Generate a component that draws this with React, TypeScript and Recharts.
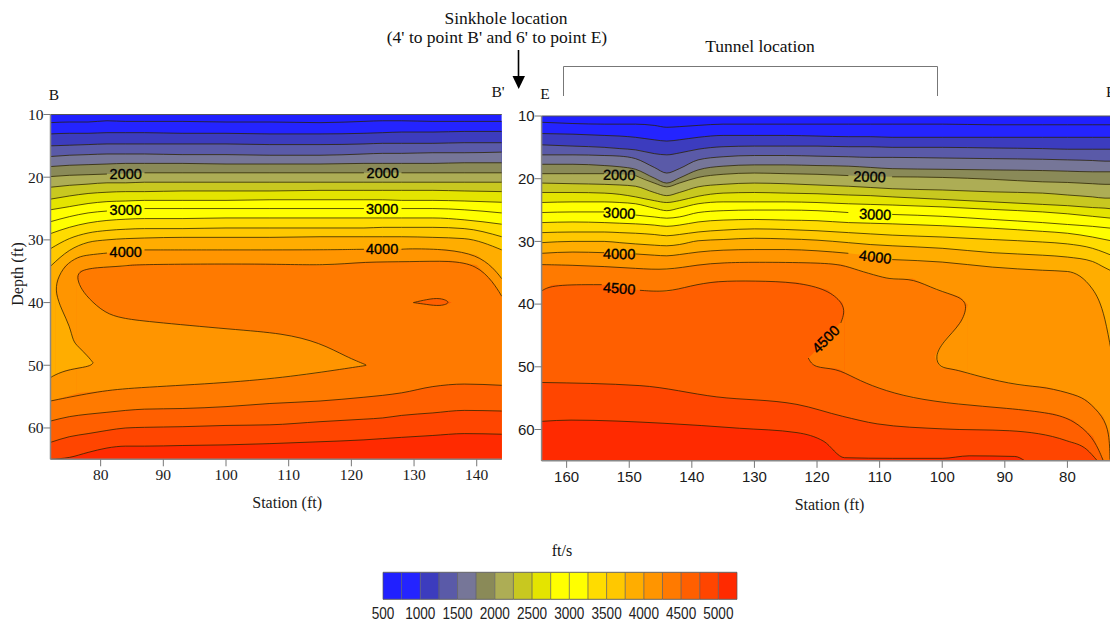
import React from 'react';
import { ComposedChart, Area, Line, XAxis, YAxis, ReferenceDot, ReferenceLine } from 'recharts';

type Pt = [number, number | null];
type Span = [number, number, number];

const SERIF = '"Liberation Serif", serif';
const SANS = '"Liberation Sans", sans-serif';
const BOTTOM = 65;

// velocity levels and band colours (legend reads left to right)
const LEVELS = [500, 750, 1000, 1250, 1500, 1750, 2000, 2250, 2500, 2750, 3000, 3250, 3500, 3750, 4000, 4250, 4500, 4750, 5000, 5250];
const LEVEL_COLORS = ['#2020ff', '#2424ff', '#3c3cbe', '#5a5aa8', '#767698', '#8a8a58', '#adad55', '#c8c820', '#e4e400', '#ffff00', '#ffff00', '#ffdc00', '#ffc800', '#ffad00', '#ff9500', '#ff7a00', '#ff5f00', '#ff4500', '#ff2a00'];
const LEGEND_TICKS = [500, 1000, 1500, 2000, 2500, 3000, 3500, 4000, 4500, 5000];

const colorOf = (level: number) => LEVEL_COLORS[LEVELS.indexOf(level)];

// ---- left section, B to B' ----
const L_STATIONS = [72, 75, 78, 81, 84, 87, 93, 100, 107, 115, 122, 125, 128, 133, 138, 144];
const L_GAPS = [84, 125];
const L750 = [11.3, 11.2, 11.2, 11.0, 11.1, 11.1, 11.1, 11.2, 11.2, 11.3, 11.1, 11.0, 11.0, 11.1, 11.1, 11.1];
const L1000 = [13.1, 13.0, 13.0, 12.9, 12.9, 12.9, 13.0, 13.0, 13.1, 13.1, 13.0, 12.9, 12.8, 12.8, 12.7, 12.7];
const L1250 = [15.0, 14.9, 14.8, 14.7, 14.7, 14.7, 14.7, 14.7, 14.8, 14.8, 14.7, 14.6, 14.6, 14.6, 14.5, 14.5];
const L1500 = [16.7, 16.5, 16.4, 16.3, 16.3, 16.3, 16.4, 16.4, 16.5, 16.5, 16.3, 16.2, 16.2, 16.1, 16.1, 16.0];
const L1750 = [18.3, 18.1, 18.0, 17.9, 17.8, 17.8, 17.8, 17.9, 17.9, 17.9, 17.8, 17.8, 17.8, 17.8, 17.7, 17.7];
const L2000 = [19.9, 19.7, 19.6, 19.5, 19.4, 19.3, 19.3, 19.3, 19.3, 19.3, 19.3, 19.3, 19.3, 19.3, 19.3, 19.3];
const L2250 = [21.6, 21.3, 21.1, 20.9, 20.9, 20.8, 20.8, 20.8, 20.8, 20.8, 20.8, 20.8, 20.8, 20.8, 20.8, 20.8];
const L2500 = [23.5, 23.0, 22.6, 22.4, 22.3, 22.3, 22.2, 22.2, 22.2, 22.1, 22.1, 22.1, 22.1, 22.1, 22.2, 22.3];
const L2750 = [25.2, 24.7, 24.2, 23.9, 23.8, 23.7, 23.7, 23.7, 23.6, 23.6, 23.6, 23.6, 23.7, 23.7, 23.8, 24.0];
const L3000 = [27.1, 26.3, 25.7, 25.4, 25.2, 25.0, 25.0, 25.0, 25.0, 25.0, 25.0, 25.0, 25.0, 25.0, 25.2, 25.7];
const L3250 = [29.0, 28.0, 27.3, 26.9, 26.7, 26.6, 26.6, 26.5, 26.5, 26.5, 26.5, 26.5, 26.5, 26.5, 26.8, 27.5];
const L3500 = [31.4, 29.8, 28.9, 28.5, 28.3, 28.2, 28.2, 28.1, 28.1, 28.1, 28.1, 28.0, 28.0, 28.0, 28.2, 29.5];
const L3750 = [34.2, 31.7, 30.4, 30.0, 29.8, 29.7, 29.6, 29.6, 29.6, 29.5, 29.5, 29.5, 29.5, 29.6, 29.8, 31.6];
const L4500 = [58.9, 58.2, 57.8, 57.5, 57.2, 57.0, 56.9, 56.6, 56.1, 55.7, 55.1, 54.8, 54.4, 53.4, 53.0, 53.2];
const L4750 = [62.3, 61.4, 60.9, 60.4, 60.0, 59.9, 59.8, 59.6, 59.5, 59.0, 58.6, 58.4, 58.0, 57.6, 57.2, 57.3];
const L5000 = [65, 64.7, 63.9, 63.2, 62.9, 62.9, 62.8, 62.7, 62.5, 62.2, 61.9, 61.7, 61.5, 61.2, 60.9, 61];

// contours that fold back on themselves: [station, depth], null breaks the line at a label
const L4000_LINE: Pt[] = [[144, 36.2], [142.6, 34.4], [140, 32.4], [135.3, 31.5], [129.4, 31.4], [128, 31.5], [125, null], [122, 31.5], [115, 31.6], [100, 31.6], [87, 31.6], [84, null], [81, 32.1], [78, 32.4], [76.4, 32.7], [74.3, 34], [73, 36.4], [72.8, 38.5], [73.8, 41.2], [75.1, 43.8], [75.6, 46.2], [76.4, 47], [78, 48.6], [78.8, 49.6], [78.8, 49.6], [78.5, 50], [77.5, 50.3], [74.3, 50.8], [72.2, 51.8], [72, 52]];
const L4000_TOP: Pt[] = [[72, 52], [72.8, 51.5], [72.8, 38.5], [73, 36.4], [74.3, 34], [76.4, 32.7], [78, 32.4], [81, 32.1], [84, 31.8], [87, 31.6], [100, 31.6], [115, 31.6], [122, 31.5], [125, 31.5], [129.4, 31.4], [135.3, 31.5], [140, 32.4], [142.6, 34.4], [144, 36.2]];
const L4250_LINE: Pt[] = [[144, 39], [142.6, 36.7], [140, 34], [135.8, 33.3], [129.4, 33.5], [122, 33.5], [116, 34.1], [106.5, 33.8], [85, 33.9], [83.9, 34.2], [79.1, 34.4], [76.7, 34.9], [76.2, 35.9], [76.7, 37.5], [78, 39.3], [80.7, 41.7], [83.4, 42.5], [87.1, 43], [101.2, 44.3], [109.1, 44.9], [115, 46.4], [119.3, 48.7], [122.5, 50], [122.5, 50], [119.3, 50.5], [109.1, 52], [98.5, 52.9], [85.2, 53.6], [79.9, 54.1], [72, 55.7]];
const L4250_TOP: Pt[] = [[72, 55.7], [76.2, 54.5], [76.2, 35.9], [76.7, 34.9], [79.1, 34.4], [83.9, 34.2], [85, 33.9], [106.5, 33.8], [116, 34.1], [122, 33.5], [129.4, 33.5], [135.8, 33.3], [140, 34], [142.6, 36.7], [144, 39]];
const L_LENS: Span[] = [[76.2, 35.9, 54.5], [76.7, 37.5, 54.4], [78, 39.3, 54.3], [80.7, 41.7, 54.1], [83.4, 42.5, 53.8], [87.1, 43, 53.5], [101.2, 44.3, 52.7], [109.1, 44.9, 52], [115, 46.4, 51.2], [119.3, 48.7, 50.5], [122.5, 50, 50]];
const L_POCKET: Span[] = [[72.8, 38.5, 51.5], [73.8, 41.2, 51], [75.1, 43.8, 50.6], [75.6, 46.2, 50.5], [76.4, 47, 50.4], [78, 48.6, 50.1], [78.8, 49.6, 49.6]];
const L_BUBBLE: Span[] = [[129.9, 40, 40], [132, 39.5, 40.3], [134.2, 39.2, 40.6], [136, 40, 40]];
const L_BUBBLE_LINE: Pt[] = [[129.9, 40], [129.9, 40], [132, 39.5], [134.2, 39.2], [136, 40], [134.2, 40.6], [132, 40.3], [129.9, 40], [129.9, 40]];

// ---- right section, E to E' ----
const R_STATIONS = [164, 159, 154, 151.5, 149, 146, 144, 142, 139, 135, 130, 125, 120, 115, 111.5, 108, 100, 92, 84, 80, 76, 74, 73];
const R_GAPS = [151.5, 111.5];
const R750 = [11.0, 11.2, 11.3, 11.3, 11.3, 11.5, 11.8, 11.7, 11.5, 11.3, 11.3, 11.3, 11.3, 11.3, 11.3, 11.3, 11.3, 11.4, 11.4, 11.4, 11.4, 11.4, 11.4];
const R1000 = [12.8, 12.9, 13.1, 13.2, 13.4, 13.8, 14.0, 13.8, 13.4, 13.1, 13.1, 13.1, 13.2, 13.3, 13.3, 13.4, 13.4, 13.4, 13.4, 13.4, 13.4, 13.4, 13.4];
const R1250 = [14.6, 14.8, 15.0, 15.2, 15.4, 16.0, 16.2, 15.9, 15.3, 14.9, 14.8, 14.8, 14.8, 14.9, 14.9, 15.0, 15.0, 15.1, 15.2, 15.3, 15.3, 15.3, 15.3];
const R1500 = [16.2, 16.2, 16.3, 16.4, 16.8, 18.2, 19.1, 18.4, 17.0, 16.5, 16.3, 16.3, 16.4, 16.5, 16.6, 16.6, 16.7, 16.8, 16.9, 17.0, 17.1, 17.2, 17.2];
const R1750 = [17.7, 17.7, 17.9, 18.1, 18.5, 19.9, 20.7, 19.9, 18.6, 18.0, 17.8, 17.8, 17.9, 18.0, 18.2, 18.4, 18.5, 18.6, 18.7, 18.8, 18.9, 18.9, 18.9];
const R2000 = [19.2, 19.2, 19.2, 19.3, 19.5, 20.7, 21.3, 20.7, 19.8, 19.3, 19.1, 19.2, 19.3, 19.5, 19.6, 19.7, 19.8, 20.1, 20.5, 20.6, 20.8, 20.9, 20.9];
const R2250 = [20.7, 20.8, 20.9, 21.0, 21.2, 22.2, 22.7, 22.2, 21.3, 20.9, 20.7, 20.8, 21.0, 21.2, 21.4, 21.6, 21.8, 22.1, 22.3, 22.6, 22.9, 23.1, 23.1];
const R2500 = [22.2, 22.2, 22.3, 22.5, 22.9, 23.5, 23.8, 23.5, 22.8, 22.3, 22.2, 22.3, 22.4, 22.6, 22.7, 22.9, 23.3, 23.7, 24.1, 24.3, 24.6, 24.7, 24.8];
const R2750 = [23.8, 23.7, 23.7, 23.8, 24.0, 24.7, 25.1, 24.7, 24.0, 23.7, 23.7, 23.7, 23.8, 24.0, 24.1, 24.2, 24.5, 24.9, 25.3, 25.6, 26.0, 26.2, 26.3];
const R3000 = [25.4, 25.3, 25.3, 25.5, 25.8, 26.1, 26.3, 26.1, 25.4, 25.1, 25.0, 25.0, 25.1, 25.4, 25.6, 25.7, 26.0, 26.5, 27.0, 27.3, 27.6, 27.8, 27.9];
const R3250 = [27.0, 26.9, 27.0, 27.1, 27.2, 27.4, 27.6, 27.4, 26.9, 26.6, 26.5, 26.6, 26.7, 27.0, 27.1, 27.2, 27.5, 27.9, 28.4, 28.7, 29.3, 29.7, 29.9];
const R3500 = [28.6, 28.5, 28.5, 28.6, 28.7, 28.9, 29.1, 28.9, 28.5, 28.2, 28.0, 28.1, 28.3, 28.6, 28.8, 29.0, 29.3, 29.7, 30.1, 30.4, 31.1, 31.8, 32.2];
const R3750 = [30.2, 30.0, 30.0, 30.2, 30.4, 30.6, 30.7, 30.5, 29.9, 29.7, 29.5, 29.6, 29.8, 30.2, 30.5, 30.7, 31.1, 31.8, 32.2, 32.5, 33.2, 34.2, 34.7];
const R4000 = [31.9, 31.7, 31.8, 32.0, 32.0, 32.2, 32.3, 32.1, 31.7, 31.4, 31.3, 31.3, 31.5, 31.9, 32.3, 32.9, 33.3, 34.1, 34.6, 34.8, 37.6, 42.5, 47.5];

const R4250_LINE: Pt[] = [[164, 33.7], [159, 33.8], [154, 34], [149, 34.3], [144, 34.6], [139, 33.7], [135, 33.4], [130, 33.3], [120, 33.4], [116, 33.7], [113.5, 34.6], [110, 35.6], [107.9, 36.1], [104.7, 35.9], [100.9, 37.8], [97.2, 38.8], [95.9, 40.1], [96.9, 43.1], [99.9, 46], [101.2, 48.4], [100.4, 50.2], [98.2, 50.3], [94, 51.6], [87.7, 53], [83.5, 53.2], [78.6, 54.5], [76.9, 55.3], [74.3, 57.9], [73.3, 60.6], [73.2, 64.8]];
const R4250_TOP: Pt[] = [[164, 33.7], [159, 33.8], [154, 34], [149, 34.3], [144, 34.6], [139, 33.7], [135, 33.4], [130, 33.3], [120, 33.4], [116, 33.7], [113.5, 34.6], [110, 35.6], [107.9, 36.1], [104.7, 35.9], [100.9, 37.8], [97.2, 38.8], [95.9, 40.1], [95.9, 51.1], [94, 51.6], [87.7, 53], [83.5, 53.2], [78.6, 54.5], [76.9, 55.3], [74.3, 57.9], [73.3, 60.6], [73.2, 64.8]];
const R_POCKET: Span[] = [[101.2, 48.4, 48.4], [100.4, 46.8, 50.2], [99.9, 46, 50.2], [98.2, 44.2, 50.3], [96.9, 43.1, 50.7], [95.9, 40.1, 51.1]];
const R4500_LINE: Pt[] = [[164, 37.9], [162.3, 36.9], [154.4, 36.9], [151.5, null], [148.3, 37.8], [144, 38.1], [140.3, 37.1], [136, 36.3], [129.9, 36.3], [123.2, 36.5], [118.3, 37.7], [115.9, 39.8], [115.6, 41.4], [116.2, 43], [118.6, null], [121.4, 48.6], [120.5, 50.2], [117, 50.2], [114, 51.8], [110.4, 53.4], [104.9, 55], [97.5, 56], [89.6, 56.6], [82.3, 57.4], [79.1, 58.5], [75.9, 61.1], [74.3, 64.9]];
const R4500_TOP: Pt[] = [[164, 37.9], [162.3, 36.9], [154.4, 36.9], [148.3, 37.8], [144, 38.1], [140.3, 37.1], [136, 36.3], [129.9, 36.3], [123.2, 36.5], [118.3, 37.7], [115.9, 39.8], [115.6, 41.4], [115.6, 50.9], [114, 51.8], [110.4, 53.4], [104.9, 55], [97.5, 56], [89.6, 56.6], [82.3, 57.4], [79.1, 58.5], [75.9, 61.1], [74.3, 64.9]];
const R_NOTCH: Span[] = [[121.4, 48.6, 48.6], [120.5, 47.8, 50.2], [117, 43.7, 50.2], [116.2, 43, 50.5], [115.6, 41.4, 50.9]];
const R4750: Pt[] = [[164, 52.5], [148.3, 53], [136, 54.8], [123.2, 56], [115.9, 57.9], [110.4, 59.1], [100, 59.9], [89.2, 60.2], [80.1, 61.8], [76.9, 63.2], [75.3, 64.9]];
const R5000: Pt[] = [[164, 58.7], [159.3, 58.5], [144.6, 59], [132.4, 59.8], [123.2, 60.5], [118.9, 61.9], [115.6, 64.5], [107.9, 64.6], [100, 64.6], [95.7, 64.2], [88.4, 64.3], [86.8, 65]];

// contour labels: station, depth, text, tilt in degrees
const L_LABELS: [number, number, string, number][] = [[84, 19.5, '2000', 0], [125, 19.4, '2000', 0], [84, 25.2, '3000', 0], [124.9, 25.1, '3000', 0], [84, 31.9, '4000', 0], [124.9, 31.5, '4000', 0]];
const R_LABELS: [number, number, string, number][] = [[151.6, 19.4, '2000', 1], [111.6, 19.7, '2000', 2], [151.6, 25.5, '3000', 3], [110.7, 25.7, '3000', 2], [151.6, 32, '4000', 1], [110.7, 32.5, '4000', 7], [151.6, 37.5, '4500', 4], [118.6, 45.6, '4500', -45]];

const DEPTH_TICKS = [10, 20, 30, 40, 50, 60];
const L_STATION_TICKS = [80, 90, 100, 110, 120, 130, 140];
const R_STATION_TICKS = [160, 150, 140, 130, 120, 110, 100, 90, 80];

const gridTop = (stations: number[], depths: number[]) => stations.map((s, i): Pt => [s, depths[i]]);
const gridLine = (stations: number[], depths: number[], gaps: number[] = []) =>
  stations.map((s, i): Pt => [s, gaps.includes(s) ? null : depths[i]]);
const toFill = (pts: Pt[]) => pts.map(([station, top]) => ({ station, range: [top, BOTTOM] }));
const toSpan = (spans: Span[]) => spans.map(([station, top, bottom]) => ({ station, range: [top, bottom] }));
const toLine = (pts: Pt[]) => pts.map(([station, depth]) => ({ station, depth }));

const contourLabel = (text: string, tilt: number) => (p: any) => (
  <text
    x={p.cx}
    y={p.cy}
    textAnchor="middle"
    dominantBaseline="central"
    transform={`rotate(${tilt} ${p.cx} ${p.cy})`}
    fontFamily={SANS}
    fontSize={14.5}
    stroke="#000"
    strokeWidth={0.35}
    fill="#000"
  >
    {text}
  </text>
);

// the legend numbers are tall and narrow in the original
const LegendTick = ({ x, y, payload }: any) => (
  <text
    transform={`translate(${x} ${y + 12}) scale(0.8 1)`}
    textAnchor="middle"
    fontFamily={SANS}
    fontSize={17}
    fill="#222"
  >
    {payload.value}
  </text>
);

function ContourPanel({ style, width, margin, yWidth, domain, reversed, ticks, font, tickSize, fills, lines, labels, titleShift = 0 }: any) {
  const tickStyle = { fontFamily: font, fontSize: tickSize, fill: '#1a1a1a' };
  return (
    <div style={{ position: 'absolute', top: 0, ...style }}>
      <ComposedChart width={width} height={520} margin={margin}>
        <XAxis
          type="number"
          dataKey="station"
          domain={domain}
          reversed={reversed}
          ticks={ticks}
          allowDataOverflow
          tick={tickStyle}
          tickSize={7}
          tickMargin={3}
          tickLine={{ stroke: '#777' }}
          axisLine={{ stroke: '#888', strokeWidth: 1.5 }}
          height={52}
          label={{ value: 'Station (ft)', position: 'insideBottom', offset: 3, dx: titleShift, style: { fontFamily: SERIF, fontSize: 16, fill: '#1a1a1a' } }}
        />
        <YAxis
          type="number"
          domain={[10, BOTTOM]}
          reversed
          ticks={DEPTH_TICKS}
          allowDataOverflow
          width={yWidth}
          tick={tickStyle}
          tickSize={7}
          tickMargin={0}
          tickLine={{ stroke: '#777' }}
          axisLine={{ stroke: '#888', strokeWidth: 1.5 }}
        />
        {fills.map((f: any, i: number) => (
          <Area key={`fill-${i}`} data={f.data} dataKey="range" type={f.curve ?? 'linear'} fill={f.color} fillOpacity={1} stroke="none" dot={false} activeDot={false} isAnimationActive={false} />
        ))}
        {lines.map((l: any, i: number) => (
          <Line key={`line-${i}`} data={toLine(l.pts)} dataKey="depth" type={l.curve} stroke="#2a2200" strokeOpacity={0.85} strokeWidth={0.9} dot={false} activeDot={false} isAnimationActive={false} />
        ))}
        <ReferenceLine y={10} stroke="#555" />
        {labels.map(([s, d, text, tilt]: any, i: number) => (
          <ReferenceDot key={`label-${i}`} x={s} y={d} r={0} shape={contourLabel(text, tilt)} />
        ))}
      </ComposedChart>
    </div>
  );
}

const SMOOTH = 'monotoneX';
const FOLDED = 'basis';
const smooth = (pts: Pt[]) => ({ pts, curve: SMOOTH });
const folded = (pts: Pt[]) => ({ pts, curve: FOLDED });

const leftGrid = [L750, L1000, L1250, L1500, L1750, L2000, L2250, L2500, L2750, L3000, L3250, L3500, L3750];
const leftFills = [
  { data: toFill([[72, 10], [144, 10]]), color: colorOf(500) },
  ...leftGrid.map((d, i) => ({ data: toFill(gridTop(L_STATIONS, d)), color: colorOf(LEVELS[i + 1]), curve: SMOOTH })),
  { data: toFill(L4000_TOP), color: colorOf(4000) },
  { data: toFill(L4250_TOP), color: colorOf(4250) },
  { data: toSpan(L_LENS), color: colorOf(4000), curve: FOLDED },
  { data: toSpan(L_POCKET), color: colorOf(3750), curve: FOLDED },
  { data: toSpan(L_BUBBLE), color: colorOf(4500), curve: FOLDED },
  { data: toFill(gridTop(L_STATIONS, L4500)), color: colorOf(4500), curve: SMOOTH },
  { data: toFill(gridTop(L_STATIONS, L4750)), color: colorOf(4750), curve: SMOOTH },
  { data: toFill(gridTop(L_STATIONS, L5000)), color: colorOf(5000), curve: SMOOTH },
];
const leftLines = [
  ...[L750, L1000, L1250, L1500, L1750].map((d) => smooth(gridLine(L_STATIONS, d))),
  smooth(gridLine(L_STATIONS, L2000, L_GAPS)),
  ...[L2250, L2500, L2750].map((d) => smooth(gridLine(L_STATIONS, d))),
  smooth(gridLine(L_STATIONS, L3000, L_GAPS)),
  ...[L3250, L3500, L3750, L4500, L4750, L5000].map((d) => smooth(gridLine(L_STATIONS, d))),
  folded(L4000_LINE),
  folded(L4250_LINE),
  folded(L_BUBBLE_LINE),
];

const rightGrid = [R750, R1000, R1250, R1500, R1750, R2000, R2250, R2500, R2750, R3000, R3250, R3500, R3750, R4000];
const rightFills = [
  { data: toFill([[72, 10], [164, 10]]), color: colorOf(500) },
  ...rightGrid.map((d, i) => ({ data: toFill(gridTop(R_STATIONS, d)), color: colorOf(LEVELS[i + 1]), curve: SMOOTH })),
  { data: toFill(R4250_TOP), color: colorOf(4250) },
  { data: toSpan(R_POCKET), color: colorOf(4000), curve: FOLDED },
  { data: toFill(R4500_TOP), color: colorOf(4500) },
  { data: toSpan(R_NOTCH), color: colorOf(4250), curve: FOLDED },
  { data: toFill(R4750), color: colorOf(4750), curve: SMOOTH },
  { data: toFill(R5000), color: colorOf(5000), curve: SMOOTH },
];
const rightLines = [
  ...[R750, R1000, R1250, R1500, R1750].map((d) => smooth(gridLine(R_STATIONS, d))),
  smooth(gridLine(R_STATIONS, R2000, R_GAPS)),
  ...[R2250, R2500, R2750].map((d) => smooth(gridLine(R_STATIONS, d))),
  smooth(gridLine(R_STATIONS, R3000, R_GAPS)),
  ...[R3250, R3500, R3750].map((d) => smooth(gridLine(R_STATIONS, d))),
  smooth(gridLine(R_STATIONS, R4000, R_GAPS)),
  folded(R4250_LINE),
  folded(R4500_LINE),
  smooth(R4750),
  smooth(R5000),
];

function Legend() {
  return (
    <div style={{ position: 'absolute', left: 370, top: 560 }}>
      <ComposedChart width={380} height={62} margin={{ top: 12.3, left: 13, right: 13, bottom: 0 }}>
        <XAxis
          type="number"
          dataKey="level"
          domain={[500, 5250]}
          ticks={LEGEND_TICKS}
          interval={0}
          allowDataOverflow
          axisLine={false}
          tickLine={false}
          height={22.7}
          tick={<LegendTick />}
        />
        <YAxis type="number" domain={[0, 1]} hide />
        {LEVEL_COLORS.map((c, i) => (
          <Area
            key={`band-${i}`}
            data={[{ level: LEVELS[i], range: [0, 1] }, { level: LEVELS[i + 1], range: [0, 1] }]}
            dataKey="range"
            type="linear"
            fill={c}
            fillOpacity={1}
            stroke="#666"
            dot={false}
            activeDot={false}
            isAnimationActive={false}
          />
        ))}
        {LEVELS.map((l) => (
          <ReferenceLine key={l} x={l} stroke="#555" strokeOpacity={0.7} />
        ))}
      </ComposedChart>
    </div>
  );
}

function Annotations() {
  const text = { fontFamily: SERIF, fontSize: 17.5, fill: '#111' };
  const letter = { fontFamily: SERIF, fontSize: 15.5, fill: '#111' };
  return (
    <svg width={1110} height={622} style={{ position: 'absolute', left: 0, top: 0, pointerEvents: 'none' }}>
      <text x={506} y={24} textAnchor="middle" {...text}>Sinkhole location</text>
      <text x={497} y={43} textAnchor="middle" {...text}>(4' to point B' and 6' to point E)</text>
      <text x={760} y={52} textAnchor="middle" {...text}>Tunnel location</text>
      <text x={54} y={100} textAnchor="middle" {...letter}>B</text>
      <text x={498} y={97} textAnchor="middle" {...letter}>B'</text>
      <text x={545} y={99} textAnchor="middle" {...letter}>E</text>
      <text x={1106} y={97} {...letter}>E'</text>
      <text x={562} y={556} textAnchor="middle" fontFamily={SERIF} fontSize={16} fill="#111">ft/s</text>
      <text x={17} y={274} textAnchor="middle" dominantBaseline="central" transform="rotate(-90 17 274)" fontFamily={SERIF} fontSize={16} fill="#1a1a1a">Depth (ft)</text>
      <line x1={518.5} y1={50} x2={518.5} y2={78} stroke="#000" strokeWidth={1.6} />
      <polygon points="512.5,76 525,76 518.7,89" fill="#000" />
      <polyline points="563.5,96 563.5,66.5 937.5,66.5 937.5,96" fill="none" stroke="#777" />
    </svg>
  );
}

export default function App() {
  return (
    <div style={{ position: 'absolute', left: 0, top: 0, width: 1110, height: 622, overflow: 'hidden', background: '#fff' }}>
      <ContourPanel
        style={{ left: 0 }}
        width={520}
        margin={{ top: 114.5, left: 10.5, right: 18.2, bottom: 8.7 }}
        yWidth={40}
        domain={[72, 144]}
        ticks={L_STATION_TICKS}
        font={SERIF}
        tickSize={15.5}
        fills={leftFills}
        lines={leftLines}
        labels={L_LABELS}
        titleShift={11}
      />
      <ContourPanel
        style={{ left: 505 }}
        width={620}
        margin={{ top: 116, left: 6.6, right: 7.5, bottom: 7.15 }}
        yWidth={30}
        domain={[72, 164]}
        reversed
        ticks={R_STATION_TICKS}
        font={SANS}
        tickSize={15}
        fills={rightFills}
        lines={rightLines}
        labels={R_LABELS}
      />
      <Legend />
      <Annotations />
    </div>
  );
}
